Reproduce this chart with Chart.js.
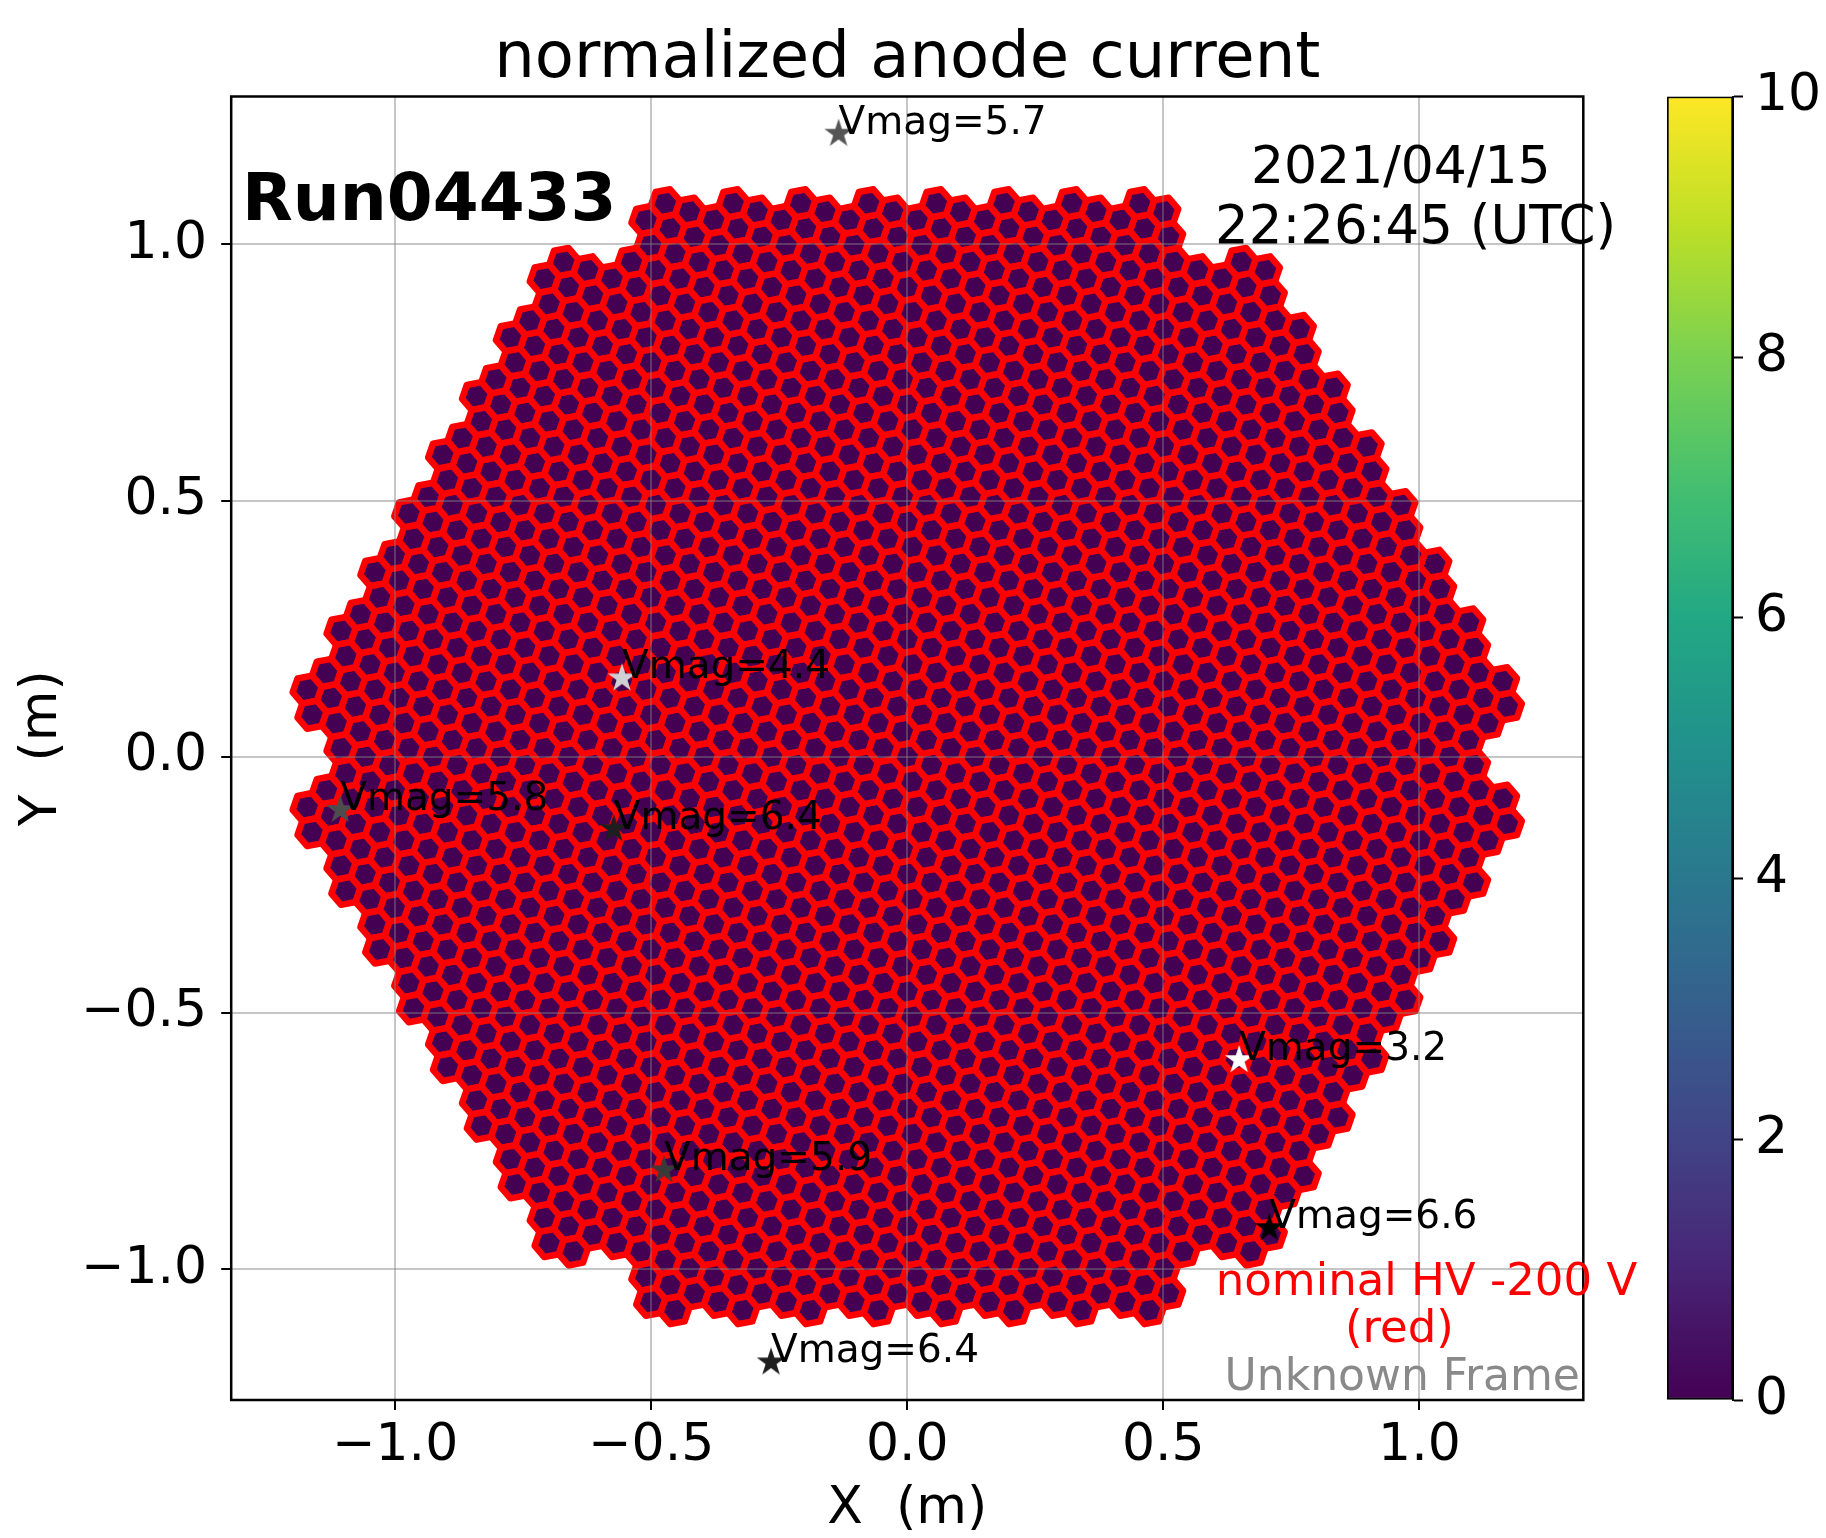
<!DOCTYPE html>
<html>
<head>
<meta charset="utf-8">
<script src="https://cdn.jsdelivr.net/npm/chart.js@4.4.1/dist/chart.umd.min.js"></script>
<style>
  html, body { margin: 0; padding: 0; background: #fff; }
  #wrap { position: relative; width: 1826px; height: 1538px; }
  #camera { position: absolute; left: 0; top: 0; }
  #cbar { position: absolute; left: 1600px; top: 0; }
</style>
</head>
<body>
<div id="wrap">
  <canvas id="camera" width="1826" height="1538"></canvas>
  <canvas id="cbar" width="226" height="1538"></canvas>
</div>
<script>
// ---- data ----
// camera: 265 modules of 7 hex pixels (9 rings of modules, the 6 corner modules missing)
const pixelPitch = 0.05;     // m
const moduleRings = 9;
const pixelTwist = -19.1;    // deg, pixel lattice vs module lattice
// every pixel reads at the bottom of the colour scale
const anodeLevel = 0.0;

// stars in the field
const starX    = [-0.134, -0.557, -1.107, -0.573, 0.648, 0.707, -0.475, -0.266];
const starY    = [ 1.216,  0.153, -0.104, -0.141, -0.592, -0.920, -0.807, -1.182];
const starVmag = [ 5.7,    4.4,    5.8,    6.4,    3.2,    6.6,    5.9,    6.4];

const xTicks = [-1.0, -0.5, 0.0, 0.5, 1.0];
const yTicks = [-1.0, -0.5, 0.0, 0.5, 1.0];
const cbarTicks = [0, 2, 4, 6, 8, 10];
const cbarMin = 0, cbarMax = 10;

// ---- build pixel centres from the camera geometry ----
const modulePitch = pixelPitch * Math.sqrt(7);
const cameraPix = [];
for (let i = -moduleRings; i <= moduleRings; i++) {
  for (let j = -moduleRings; j <= moduleRings; j++) {
    const k = -i - j;
    const d = Math.max(Math.abs(i), Math.abs(j), Math.abs(k));
    if (d > moduleRings) continue;
    if (d === moduleRings && (i === 0 || j === 0 || k === 0)) continue; // corner modules
    const mx = i * modulePitch + j * modulePitch / 2;
    const my = j * modulePitch * Math.sqrt(3) / 2;
    cameraPix.push({x: mx, y: my, v: anodeLevel});
    for (let n = 0; n < 6; n++) {
      const a = (pixelTwist + 60 * n) * Math.PI / 180;
      cameraPix.push({x: mx + pixelPitch * Math.cos(a), y: my + pixelPitch * Math.sin(a), v: anodeLevel});
    }
  }
}

// ---- styles ----
const FONT = 'DejaVu Sans';
const viridis = ['#440154', '#482475', '#414487', '#355f8d', '#2a788e', '#21918c',
                 '#22a884', '#44bf70', '#7ad151', '#bddf26', '#fde725'];
const starColors = ['#555555', '#cfcfd4', '#4d4d4d', '#1e1e1e', '#ffffff', '#000000', '#3a3a3a', '#1e1e1e'];

function viridisAt(t) {
  t = Math.min(1, Math.max(0, t));
  const p = t * (viridis.length - 1);
  const i = Math.floor(p);
  if (i >= viridis.length - 1) return viridis[viridis.length - 1];
  const f = p - i;
  const a = parseInt(viridis[i].slice(1), 16), b = parseInt(viridis[i + 1].slice(1), 16);
  const ch = s => Math.round(((a >> s) & 255) * (1 - f) + ((b >> s) & 255) * f);
  return 'rgb(' + ch(16) + ',' + ch(8) + ',' + ch(0) + ')';
}

function starImage(color) {
  const c = document.createElement('canvas');
  c.width = 36; c.height = 36;
  const g = c.getContext('2d');
  const R = 15, r = R * 0.382;
  g.beginPath();
  for (let n = 0; n < 10; n++) {
    const a = -Math.PI / 2 + n * Math.PI / 5;
    const rr = n % 2 ? r : R;
    const px = 18 + rr * Math.cos(a), py = 18 + rr * Math.sin(a);
    n ? g.lineTo(px, py) : g.moveTo(px, py);
  }
  g.closePath();
  g.fillStyle = color;
  g.fill();
  return c;
}

const fmtAxis = v => (v < 0 ? '\u2212' : '') + Math.abs(v).toFixed(1);

// hex pixels go under the grid, so they are painted before the scale layers
const hexPlugin = {
  id: 'hexPixels',
  beforeDraw(chart) {
    const meta = chart.getDatasetMeta(0);
    const xs = chart.scales.x, ys = chart.scales.y, area = chart.chartArea;
    const hexR = pixelPitch / Math.sqrt(3);
    const rx = Math.abs(xs.getPixelForValue(hexR) - xs.getPixelForValue(0));
    const ry = Math.abs(ys.getPixelForValue(hexR) - ys.getPixelForValue(0));
    const rot = (pixelTwist + 30) * Math.PI / 180;
    const ctx = chart.ctx;
    ctx.save();
    ctx.beginPath();
    ctx.rect(area.left, area.top, area.right - area.left, area.bottom - area.top);
    ctx.clip();
    ctx.lineWidth = 6.5;
    ctx.lineJoin = 'round';
    ctx.strokeStyle = '#ff0000';
    meta.data.forEach((pt, i) => {
      ctx.beginPath();
      for (let n = 0; n < 6; n++) {
        const a = rot + n * Math.PI / 3;
        const px = pt.x + rx * Math.cos(a), py = pt.y - ry * Math.sin(a);
        n ? ctx.lineTo(px, py) : ctx.moveTo(px, py);
      }
      ctx.closePath();
      ctx.fillStyle = viridisAt((cameraPix[i].v - cbarMin) / (cbarMax - cbarMin));
      ctx.fill();
      ctx.stroke();
    });
    ctx.restore();
  }
};

// star labels, frame and free texts
const textPlugin = {
  id: 'annotations',
  afterDatasetsDraw(chart) {
    const ctx = chart.ctx;
    const meta = chart.getDatasetMeta(1);
    ctx.save();
    ctx.font = '39px "' + FONT + '"';
    ctx.fillStyle = '#000';
    ctx.textAlign = 'left';
    ctx.textBaseline = 'alphabetic';
    meta.data.forEach((pt, i) => {
      ctx.fillText('Vmag=' + starVmag[i].toFixed(1), pt.x, pt.y);
    });
    ctx.restore();
  },
  afterDraw(chart) {
    const ctx = chart.ctx, a = chart.chartArea;
    const W = a.right - a.left, H = a.bottom - a.top;
    const at = (fx, fy) => [a.left + fx * W, a.top + fy * H];
    ctx.save();
    ctx.strokeStyle = '#000';
    ctx.lineWidth = 2.5;
    ctx.strokeRect(a.left, a.top, W, H);

    ctx.textBaseline = 'alphabetic';
    ctx.fillStyle = '#000';
    ctx.font = 'bold 66px "' + FONT + '"';
    ctx.textAlign = 'left';
    let p = at(0.008, 0.0947);
    ctx.fillText('Run04433', p[0], p[1]);

    ctx.font = '52px "' + FONT + '"';
    ctx.textAlign = 'center';
    p = at(0.865, 0.0664);
    ctx.fillText('2021/04/15', p[0], p[1]);
    ctx.font = '53px "' + FONT + '"';
    p = at(0.876, 0.1124);
    ctx.fillText('22:26:45 (UTC)', p[0], p[1]);

    ctx.fillStyle = '#ff0000';
    ctx.font = '45px "' + FONT + '"';
    p = at(0.884, 0.9195);
    ctx.fillText('nominal HV -200 V', p[0], p[1]);
    p = at(0.864, 0.9555);
    ctx.fillText('(red)', p[0], p[1]);

    ctx.fillStyle = '#8a8a8a';
    ctx.font = '44px "' + FONT + '"';
    ctx.textAlign = 'right';
    p = at(0.9975, 0.9923);
    ctx.fillText('Unknown Frame', p[0], p[1]);
    ctx.restore();
  }
};

const gridStyle = {
  color: 'rgba(128,128,128,0.45)', lineWidth: 2,
  tickLength: 10, tickColor: '#000', tickWidth: 2
};

new Chart(document.getElementById('camera'), {
  type: 'scatter',
  data: {
    datasets: [
      {label: 'pixels', data: cameraPix, pointRadius: 0, pointHoverRadius: 0},
      {
        label: 'stars',
        data: starX.map((x, i) => ({x: x, y: starY[i]})),
        pointStyle: starColors.map(starImage),
        pointRadius: 15
      }
    ]
  },
  plugins: [hexPlugin, textPlugin],
  options: {
    responsive: false,
    animation: false,
    devicePixelRatio: 1,
    events: [],
    layout: {padding: {left: 0, top: 0, right: 242.7, bottom: 0}},
    plugins: {
      legend: {display: false},
      tooltip: {enabled: false},
      title: {
        display: true,
        fullSize: false,
        text: 'normalized anode current',
        color: '#000',
        font: {family: FONT, size: 64, weight: 'normal', lineHeight: 1},
        padding: {top: 28, bottom: 4.5}
      }
    },
    scales: {
      x: {
        type: 'linear', min: -1.32, max: 1.32,
        afterFit: s => { s.height = 138; },
        afterBuildTicks: s => { s.ticks = xTicks.map(v => ({value: v})); },
        grid: gridStyle,
        border: {display: false},
        ticks: {color: '#000', padding: 5, font: {family: FONT, size: 52, lineHeight: 1.2}, callback: fmtAxis},
        title: {display: true, text: 'X  (m)', color: '#000',
                font: {family: FONT, size: 52, lineHeight: 1}, padding: {top: 0, bottom: 3}}
      },
      y: {
        type: 'linear', min: -1.2555, max: 1.2885,
        afterFit: s => { s.width = 231.2; },
        afterBuildTicks: s => { s.ticks = yTicks.map(v => ({value: v})); },
        grid: gridStyle,
        border: {display: false},
        ticks: {color: '#000', padding: 14, font: {family: FONT, size: 52, lineHeight: 1.2}, callback: fmtAxis},
        title: {display: true, text: 'Y  (m)', color: '#000',
                font: {family: FONT, size: 52, lineHeight: 1}, padding: {top: 16, bottom: 0}}
      }
    }
  }
});

// ---- colour bar ----
new Chart(document.getElementById('cbar'), {
  type: 'bar',
  data: {
    labels: [''],
    datasets: [{
      data: [cbarMax],
      backgroundColor: c => {
        const area = c.chart.chartArea;
        if (!area) return viridis[0];
        const g = c.chart.ctx.createLinearGradient(0, area.bottom, 0, area.top);
        viridis.forEach((col, i) => g.addColorStop(i / (viridis.length - 1), col));
        return g;
      },
      borderColor: '#000',
      borderWidth: 2,
      borderSkipped: false,
      barPercentage: 1,
      categoryPercentage: 1
    }]
  },
  options: {
    responsive: false,
    animation: false,
    devicePixelRatio: 1,
    events: [],
    layout: {padding: {left: 67, top: 96.5, bottom: 138, right: 0}},
    plugins: {legend: {display: false}, tooltip: {enabled: false}},
    scales: {
      x: {display: false},
      y: {
        position: 'right', min: cbarMin, max: cbarMax,
        afterFit: s => { s.width = 93; },
        afterBuildTicks: s => { s.ticks = cbarTicks.map(v => ({value: v})); },
        grid: {drawOnChartArea: false, tickLength: 10, tickColor: '#000', tickWidth: 2},
        border: {display: true, color: '#000', width: 2},
        ticks: {color: '#000', padding: 12, font: {family: FONT, size: 52, lineHeight: 1.2},
                callback: v => String(v)}
      }
    }
  }
});
</script>
</body>
</html>
